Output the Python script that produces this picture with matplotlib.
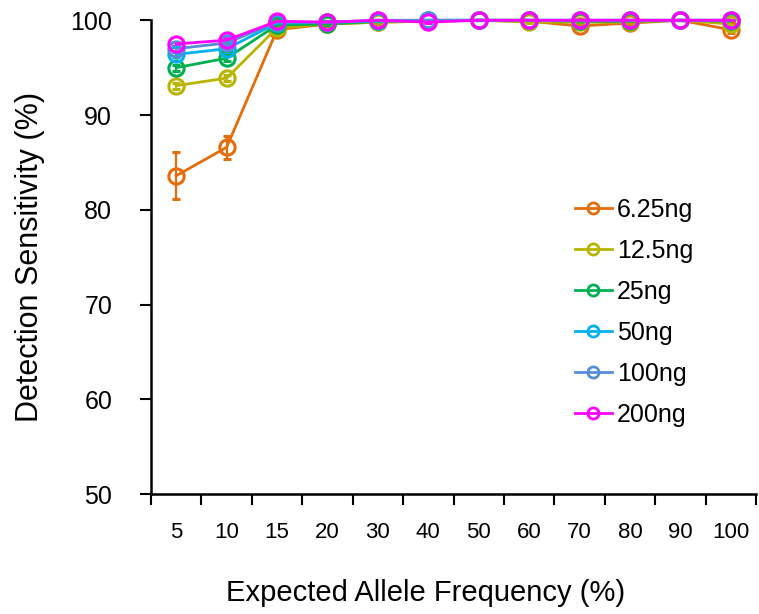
import numpy as np
import matplotlib.pyplot as plt
from matplotlib.lines import Line2D

plt.rcParams['font.family'] = ['Liberation Sans', 'DejaVu Sans']

# Expected allele frequency categories (%)
freqs = ['5', '10', '15', '20', '30', '40', '50', '60', '70', '80', '90', '100']

# Detection sensitivity (%) per input amount
s625 = [83.6, 86.6, 99.0, 99.6, 99.8, 99.9, 100.0, 99.9, 99.4, 99.7, 100.0, 99.0]
s125 = [93.1, 93.9, 99.2, 99.6, 99.8, 99.9, 100.0, 99.8, 99.8, 99.8, 100.0, 99.6]
s25 = [95.0, 96.0, 99.5, 99.6, 99.9, 100.0, 100.0, 100.0, 99.9, 99.9, 100.0, 99.9]
s50 = [96.4, 97.0, 99.7, 99.8, 99.9, 100.0, 100.0, 100.0, 100.0, 100.0, 100.0, 100.0]
s100 = [97.0, 97.6, 99.8, 99.8, 100.0, 100.0, 100.0, 100.0, 100.0, 100.0, 100.0, 100.0]
s200 = [97.5, 97.9, 99.9, 99.8, 100.0, 99.8, 100.0, 100.0, 100.0, 100.0, 100.0, 100.0]

# error bars (SD)
e625 = [2.5, 1.2, 0.3, 0.2, 0.2, 0.1, 0.0, 0.1, 0.3, 0.2, 0.0, 0.3]
e125 = [0.3, 0.3, 0.2, 0.1, 0.1, 0.1, 0.0, 0.1, 0.1, 0.1, 0.0, 0.2]
e25 = [0.3, 0.3, 0.2, 0.1, 0.1, 0.0, 0.0, 0.0, 0.1, 0.1, 0.0, 0.1]
e50 = [0.3, 0.3, 0.1, 0.1, 0.1, 0.0, 0.0, 0.0, 0.0, 0.0, 0.0, 0.0]
e100 = [0.3, 0.2, 0.1, 0.1, 0.0, 0.0, 0.0, 0.0, 0.0, 0.0, 0.0, 0.0]
e200 = [0.2, 0.2, 0.1, 0.1, 0.0, 0.1, 0.0, 0.0, 0.0, 0.0, 0.0, 0.0]

labels = ['6.25ng', '12.5ng', '25ng', '50ng', '100ng', '200ng']
colors = ['#E46C0A', '#B8B400', '#00B050', '#00B0F0', '#558ED5', '#FF00FF']
series = [s625, s125, s25, s50, s100, s200]
errors = [e625, e125, e25, e50, e100, e200]

fig = plt.figure(figsize=(7.59, 6.14), dpi=100)
ax = fig.add_axes([0.199, 0.195, 0.797, 0.772])

x = np.arange(len(freqs))
handles = []
for y, e, c, lab in zip(series, errors, colors, labels):
    ax.errorbar(x, y, yerr=e, color=c, lw=2, marker='o', ms=11,
                mfc='none', mec=c, mew=2.2, capsize=3, elinewidth=1.6,
                capthick=1.6, clip_on=False)
    handles.append(Line2D([], [], color=c, lw=2, marker='o', ms=8,
                          mfc='none', mec=c, mew=2, label=lab))

ax.set_xlim(-0.5, len(freqs) - 0.5)
ax.set_ylim(50, 100)
ax.set_yticks([50, 60, 70, 80, 90, 100])

# category axis: tick marks between categories, labels at centres
ax.set_xticks(np.arange(-0.5, len(freqs)), labels=[''] * (len(freqs) + 1))
ax.set_xticks(x, labels=freqs, minor=True)
ax.tick_params(axis='x', which='major', direction='out', length=8, width=1.5)
ax.tick_params(axis='x', which='minor', length=0, pad=20, labelsize=16)
ax.tick_params(axis='y', direction='out', length=8, width=1.5, pad=20,
               labelsize=18)

for s in ['top', 'right']:
    ax.spines[s].set_visible(False)
for s in ['left', 'bottom']:
    ax.spines[s].set_linewidth(1.8)

ax.set_xlabel('Expected Allele Frequency (%)', fontsize=21)
ax.xaxis.set_label_coords(0.454, -0.178)
ax.set_ylabel('Detection Sensitivity (%)', fontsize=22, labelpad=18)

ax.legend(handles=handles, loc='upper left', bbox_to_anchor=(0.663, 0.672),
          frameon=False, fontsize=18, handlelength=1.5, handletextpad=0.2,
          labelspacing=0.68)

fig.savefig('out.png', dpi=100)
